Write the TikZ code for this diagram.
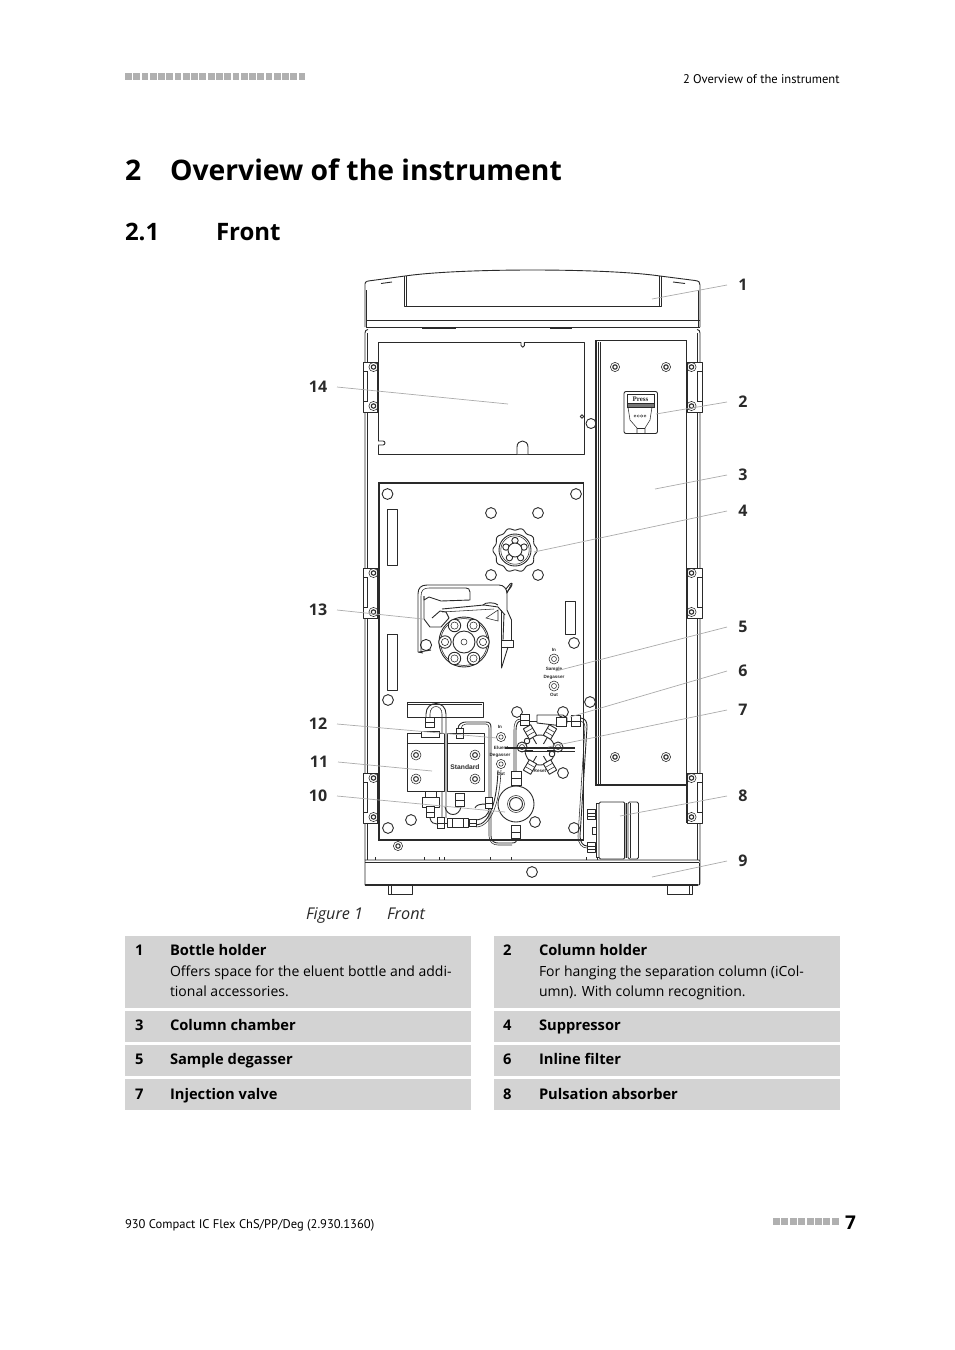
\documentclass[tikz,border=0pt]{standalone}
\usepackage{fontspec}
\setmainfont{Open Sans}
\newfontfamily\nar{PT Sans}
\newfontfamily\libs{Liberation Sans}
\newfontfamily\libsr{Liberation Serif}
\usetikzlibrary{calc}
\definecolor{ink}{HTML}{2A2A2A}
\definecolor{band}{HTML}{D3D3D3}
\definecolor{sq}{HTML}{B0B0B0}
\definecolor{lead}{HTML}{ABABAB}
\tikzset{
 txt/.style={anchor=base west,inner sep=0pt,outer sep=0pt,font=\fontsize{14}{17}\selectfont,text=black},
 btxt/.style={txt,font=\fontsize{14.7}{17}\selectfont\bfseries},
 itx/.style={txt,font=\fontsize{16.2}{17}\selectfont\itshape,text=ink},
 nartxt/.style={txt,font=\fontsize{12.55}{16}\nar\selectfont},
 lab/.style={inner sep=0pt,outer sep=0pt,font=\fontsize{16}{17}\selectfont\bfseries,text=ink},
 labr/.style={lab,minimum width=32pt},
 labl/.style={lab,minimum width=38pt},
 leader/.style={draw=lead,line width=0.7pt},
 dev/.style={draw=ink,line width=0.9pt,line join=round},
 fine/.style={draw=ink,line width=0.55pt},
 thick2/.style={draw=ink,line width=1.6pt},
 mini/.style={inner sep=0pt,font=\fontsize{4.6}{5}\libs\bfseries\selectfont,text=ink},
 fitt/.style={draw=ink,fill=white,line width=0.9pt},
}
\newcommand{\hole}[3]{\draw[dev] (#1,#2) circle (#3);}
\newcommand{\scr}[2]{\draw[fine] (#1,#2) circle (4.6);\draw[draw=ink,line width=1.1pt] (#1,#2) circle (2.2);}
\newcommand{\hinge}[3]{% x of body side, y top, dir
 \draw[dev,fill=white] (#1,#2) rectangle +(#3*15,50);
 \draw[fine,fill=white] (#1,#2+9) rectangle +(#3*4.5,30);
 \draw[draw=ink,line width=1.4pt] (#1+#3*15,#2) -- +(0,50);
 \scr{#1+#3*10.5}{#2+5}\scr{#1+#3*10.5}{#2+44}}
\newcommand{\ft}[4]{\draw[fitt] (#1-#3/2,#2-#4/2) rectangle (#1+#3/2,#2+#4/2);\draw[fine] (#1-#3/2,#2) -- (#1+#3/2,#2);}
\newcommand{\vft}[3]{\begin{scope}[shift={(#1,#2)},rotate=#3]\draw[dev,fill=white] (-6,-4.2) rectangle (6,4.2);\draw[fine] (-2,-4.2) -- (-2,4.2) (2,-4.2) -- (2,4.2);\end{scope}}
\begin{document}
\begin{tikzpicture}[x=1pt,y=-1pt]
\useasboundingbox (0,0) rectangle (954,1350);
% ===== page furniture
\foreach \i in {0,...,21}{\fill[sq] (125+\i*8.27,73.4) rectangle +(6.8,7);}
\node[nartxt] (hdr) at (683,83) {2 Overview of the instrument};
\node[txt,font=\fontsize{28.3}{32}\selectfont\bfseries] (ch) at (125,180) {2};
\node[txt,font=\fontsize{28.3}{32}\selectfont\bfseries] (cht) at (170,180) {Overview of the instrument};
\node[txt,font=\fontsize{24}{28}\selectfont\bfseries] (sec) at (125,240.5) {2.1};
\node[txt,font=\fontsize{24}{28}\selectfont\bfseries] (sect) at (216,240.5) {Front};
\foreach \i in {0,...,7}{\fill[sq] (772.7+\i*8.45,1218) rectangle +(7,7);}
\node[nartxt] (ftr) at (125,1228) {930 Compact IC Flex ChS/PP/Deg (2.930.1360)};
\node[txt,font=\fontsize{19}{22}\selectfont\bfseries] (pg) at (845,1229.5) {7};
% ===== bottle holder
\draw[dev] (365,327) -- (365,284) .. controls (365,281) and (368,281) .. (372,280.5) -- (405,276)
  .. controls (460,268) and (605,268) .. (660,276) -- (695,280.5) .. controls (699,281) and (700,282) .. (700,285) -- (700,327);
\draw[fine] (366.5,327) -- (366.5,290);\draw[fine] (698.5,327) -- (698.5,290);
\draw[dev] (404,276) -- (404,306) -- (661,306) -- (661,276);
\draw[fine] (406,276) -- (406,306);\draw[fine] (659,276) -- (659,306);
\draw[dev] (381,283.5) -- (392,282);\draw[dev] (673,282) -- (685,283.5);
\draw[fine] (366,320) -- (700,320);
\draw[thick2] (366,327.5) -- (700,327.5);
\draw[fine] (422,328.5) -- (456,328.5);\draw[fine] (550,328.5) -- (572,328.5);
% ===== body
\draw[dev] (365,860) -- (365,333) .. controls (365,331) and (366,329.5) .. (368,329.5);
\draw[fine] (367.5,860) -- (367.5,333);
\draw[dev] (700,860) -- (700,333) .. controls (700,331) and (699,329.5) .. (697,329.5);
\draw[fine] (697.5,860) -- (697.5,333);
\hinge{363}{362}{1}\hinge{363}{568}{1}\hinge{363}{773}{1}
\hinge{702}{362}{-1}\hinge{702}{568}{-1}\hinge{702}{773}{-1}
% ===== upper panel
\draw[dev] (378,342) rectangle (584,454);
\draw[dev,fill=white] (521,342) -- (521,345.5) arc[start angle=180,end angle=0,radius=1.7] -- (524.4,342);
\draw[dev,fill=white] (517,454) -- (517,447) .. controls (517,439) and (528,439) .. (528,447) -- (528,454);
\draw[dev,fill=white] (378,441) -- (383,441) arc[start angle=-90,end angle=90,radius=2] -- (378,445);
\draw[dev,fill=white] (582,416.5) circle (1.8);
\hole{591}{423.5}{5}
% ===== column chamber
\draw[thick2,fill=white] (596,340.5) rectangle (686.5,785);
\draw[fine] (600,342) -- (600,784);\draw[fine] (598,342) -- (598,784);
\foreach \a/\b in {615/367,666/367,615/757,666/757}{\scr{\a}{\b}}
\draw[dev,rounded corners=2pt] (624,391.5) rectangle (657.5,433.5);
\draw[fine,fill=ink!65] (627,403) rectangle (654.5,407);
\draw[fine] (627,394) rectangle (654.5,403);
\node[mini,font=\fontsize{7}{7}\libsr\bfseries\selectfont] (press) at (640.5,399) {Press};
\draw[fine] (628,407) -- (630,420) -- (637,428) -- (637,433);\draw[fine] (652,407) -- (650,420) -- (645,428) -- (645,433);
\draw[fine] (637,428) -- (645,428);
\foreach \a in {635,638.3,641.6,645}{\draw[draw=ink,line width=0.3pt] (\a,416) circle (1.2);}
% ===== lower panel
\draw[draw=ink,line width=1.4pt] (379,483) rectangle (583.5,840);
\foreach \a/\b in {387.5/494,576/494,491/513,538/513,491/575,538/575,574/643,388/700,590/702,563/773,535/822,411/820,388/828,574/828,517/712,563/712}{\hole{\a}{\b}{5.4}}
\foreach \a/\b in {387/509,387/634}{\draw[dev] (\a,\b) rectangle +(10,56);}
\draw[dev] (565,601) rectangle (575,634);
% suppressor
\draw[dev,smooth] plot[domain=0:360,samples=120] ({515+(21+1.1*cos(10*\x))*cos(\x)},{550+(21+1.1*cos(10*\x))*sin(\x)});
\draw[dev] (515,550) circle (16);\draw[fine] (515,550) circle (14.2);
\foreach \t in {18,90,162,234,306}{\draw[dev] ({515+9.5*cos(\t)},{550-9.5*sin(\t)}) circle (3.2);}
\draw[dev,fill=white] (515,550) circle (7);
% pump bracket
\draw[dev] (418,652) -- (418,594) .. controls (418,588) and (421,585) .. (427,585) -- (499,585)
  .. controls (504,585) and (507,589) .. (507,594) -- (507,610) -- (511.5,620) -- (511.5,640);
\draw[fine] (421,652) -- (421,596) .. controls (421,590) and (424,588) .. (429,588) -- (466,588);
\draw[dev] (424,596) -- (424,600) -- (429,597) -- (441,601) -- (470,600) -- (470,592) .. controls (470,589) and (468,588) .. (466,588);
\draw[dev] (424,596) -- (424,619) -- (430,627) -- (441,627) -- (449,618) -- (446,612) -- (440,611) -- (432,618);
\draw[dev] (442,609) -- (484,605) -- (498,607) -- (505,615);
\draw[fine] (442,612) -- (494,609);
\draw[dev] (483,605) .. controls (485,602) and (495,602) .. (498,605);
\draw[fine] (498,610) -- (498,621) -- (486,618) -- cycle;
\draw[dev] (504,614) -- (503,640);\draw[dev] (501,610) -- (501,640);
\draw[dev] (507,593) -- (511,585) -- (512,583);\draw[dev] (506,589) -- (510,584) .. controls (512,582) and (513,584) .. (511,587) -- (507,592);
\draw[dev,fill=white] (501,640) rectangle (513,647);
\draw[dev] (501.5,647) -- (501.5,668) -- (508,647);
\draw[dev] (419,652) -- (431,650) (418,652) -- (423,653);
\hole{426}{645}{5.6}
% pump head
\draw[dev,fill=white] (464,642) circle (25);
\draw[fine] (464,642) circle (23.5);
\foreach \t in {0,60,...,300}{\draw[dev,fill=white] ({464+19*cos(\t)},{642+19*sin(\t)}) circle (6.2);
  \draw[fine] ({464+19*cos(\t)},{642+19*sin(\t)}) circle (3.6);}
\draw[dev,fill=white] (464,642) circle (11);\draw[fine] (464,642) circle (3);
% sample degasser
\foreach \b in {659,686}{\draw[fine] (554,\b) circle (5);\draw[fine] (554,\b) circle (2.5);}
\node[mini] (sIn) at (554,650) {In};
\node[mini] (sSa) at (554,669) {Sample};
\node[mini] (sDe) at (554,677) {Degasser};
\node[mini] (sOu) at (554,695) {Out};
% standard blocks
\draw[dev] (407,702) rectangle (483,717);\draw[fine] (408,704) -- (482,704);
\draw[dev] (426,722) -- (426,714) .. controls (426,700) and (446,700) .. (446,714) -- (446,818) ;
\draw[fine] (430,722) -- (430,714) .. controls (430,704) and (442,704) .. (442,714) -- (442,818);
\draw[dev,fill=white] (407,733) rectangle (444,791);\draw[dev,fill=white] (447,733) rectangle (484,791);
\draw[fine] (407,743) -- (444,743);\draw[fine] (447,743) -- (484,743);
\foreach \a/\b in {416/755,416/779,475/755,475/779}{\draw[fine] (\a,\b) circle (5);\draw[draw=ink,line width=1pt] (\a,\b) circle (2.4);}
\node[inner sep=0pt,font=\fontsize{6.7}{8}\libs\bfseries\selectfont,text=ink] (std) at (465,767) {Standard};
\draw[fine,fill=white] (421,731) rectangle (439,737);
\ft{430}{722}{9}{10}
\ft{460}{733}{7}{10}
\draw[dev] (458,729) .. controls (458,724) and (462,722) .. (466,722) -- (486,722) .. controls (490,722) and (491,724) .. (491,728) -- (491,836) .. controls (491,841) and (494,843) .. (498,843) -- (512,843) .. controls (516,843) and (517,841) .. (517,838);
\draw[fine] (461,729) .. controls (461,726) and (463,724) .. (466,724) -- (486,724) .. controls (488,724) and (489,726) .. (489,728) -- (489,836) .. controls (489,842) and (493,845) .. (498,845) -- (512,845);
\draw[dev] (422,797) rectangle (439,807);
\draw[dev] (425,791) -- (425,797) (436,791) -- (436,797);
\ft{460}{800}{9}{13}
\draw[dev] (445,807) .. controls (447,817) and (459,817) .. (461,807);
\ft{430}{812}{8}{11}
\draw[dev] (430,818) .. controls (431,823) and (434,824) .. (437,824);
\ft{441}{823}{7}{11}
\draw[dev,fill=white] (447,818) rectangle (468,827);\draw[fine] (452,818) -- (452,827) (463,818) -- (463,827);
\draw[dev] (444,823) -- (447,823) (468,823) -- (470,823);
\ft{473}{823}{7}{7}
\draw[dev] (476,825) .. controls (490,825) and (497,800) .. (498,770);
\draw[fine] (476,827) .. controls (492,827) and (500,800) .. (501,770);
\draw[dev] (476,820) .. controls (484,819) and (489,815) .. (489,808);
\ft{489}{803}{7}{11}
\draw[dev] (475,808) .. controls (476,805) and (480,804) .. (486,804);
% eluent degasser
\draw[fine] (501,737) circle (4.6);\draw[fine] (501,737) circle (2.2);
\draw[fine] (501,764) circle (4.6);\draw[fine] (501,764) circle (2.2);
\node[mini] (eIn) at (500,727) {In};
\node[mini] (eSa) at (501,748) {Eluent};
\node[mini] (eDe) at (500,755) {Degasser};
\node[mini] (eOu) at (501,774) {Out};
% pulsation chamber on lower panel
\draw[dev,fill=white] (516,804) circle (18);
\draw[fine] (516,804) circle (8.5);\draw[dev] (516,804) circle (6.5);
\ft{516}{778}{10}{14}
\ft{516}{832}{9}{13}
\draw[dev] (516,771) -- (516,730) .. controls (516,724) and (518,721) .. (521,721);
\draw[fine] (514,771) -- (514,730) .. controls (514,722) and (516,719) .. (521,719);
% injection valve
\draw[dev,fill=white] (540,750) circle (15);
\foreach \t in {0,60,...,300}{\draw[dev] ({540+7*cos(\t)},{750+7*sin(\t)}) -- ({540+16*cos(\t)},{750+16*sin(\t)});}
\vft{530}{732}{-60}\vft{550}{732}{60}\vft{530}{767}{60}\vft{550}{767}{-60}
\foreach \a/\b in {522/747,558/747}{\draw[dev,fill=white] (\a,\b) circle (5);\draw[fine] (\a,\b) circle (2.5);}
\draw[dev,fill=white] (527,741) circle (2.8);\draw[dev,fill=white] (552,754) circle (2.8);
\draw[draw=ink,line width=1.8pt] (505,748) -- (575,748);
\draw[fine] (520,751) -- (575,751);
\draw[dev] (537,715) -- (563,715) -- (567,718) -- (567,723) -- (563,726) -- (537,723) -- cycle;
\draw[fine,fill=white] (556,717) rectangle (566,726);
\ft{525}{720}{9}{11}
\ft{576}{721}{9}{11}
\draw[dev] (530,721) -- (537,721) (567,721) -- (571,721);
\draw[dev] (581,718) .. controls (586,719) and (587,722) .. (587,727) -- (580,836) .. controls (580,842) and (583,846) .. (587,846);
\draw[fine] (581,721) .. controls (584,722) and (585,724) .. (585,727) -- (578,836) .. controls (578,844) and (582,848) .. (587,848);
\node[mini] (rst) at (540,771) {Reset};
% bottom circle
\draw[fine] (398,846) circle (4.6);\draw[draw=ink,line width=1pt] (398,846) circle (2.2);
% pulsation absorber
\draw[dev,fill=white] (596,803) rectangle (599,857);
\draw[dev,fill=white,rounded corners=1.5pt] (599,802) rectangle (625,859);
\draw[dev,fill=white,rounded corners=1.5pt] (628,802) rectangle (638.5,859);
\draw[draw=ink,line width=1.2pt] (626.5,803) -- (626.5,858);
\draw[fine] (624,803) -- (624,858);\draw[fine] (630,803) -- (630,858);
\draw[dev,fill=white] (587,809) rectangle (595,819);\draw[fine] (587,813) -- (595,813) (587,816) -- (595,816);
\draw[dev,fill=white] (587,842) rectangle (595,852);\draw[fine] (587,846) -- (595,846) (587,849) -- (595,849);
\draw[dev] (596,827) -- (592,827) -- (592,834) -- (596,834);
% base
\draw[dev,fill=white] (365,860) -- (699,860) .. controls (700,860) and (700,861) .. (700,862) -- (700,883) .. controls (700,885) and (699,885) .. (698,885) -- (365,885) -- cycle;
\draw[fine] (365,862.5) -- (699,862.5);
\draw[draw=ink,line width=1.6pt] (699.5,863) -- (699.5,884) (365,885) -- (698,885);
\draw[fine] (586,860) -- (586,857) (597,857) -- (597,860) (424,857) -- (424,860) (439,857) -- (439,860) (444,857) -- (444,860);
\draw[fine] (375,857) -- (375,860) (490,857) -- (490,860) (511,857) -- (511,860);
\hole{532}{872}{5.4}
\draw[dev] (667,885) -- (667,894) -- (692,894) -- (692,885);\draw[fine] (689,885) -- (689,894);
\draw[dev] (388,885) -- (388,894) -- (412,894) -- (412,885);\draw[fine] (391,885) -- (391,894);
% ===== callouts
\foreach \n/\a/\b/\tx/\ty in {1/743/285/652/299,2/743/402/656/414,3/743/475/655/489,4/743/511/534/552,5/743/627/556/671,6/743/671/570/717,7/743/710/548/747,8/743/796/620/816,9/743/861/652/877}{
 \node[labr] (c\n) at (\a,\b) {\n};
 \coordinate (t\n) at (\tx,\ty);
 \draw[leader] (c\n.west) -- (t\n);
}
\foreach \n/\a/\b/\tx/\ty in {10/318/796/505/812,11/319/762/432/771,12/318/724/497/738,13/318/610/423/619,14/318/387/508/404}{
 \node[labl] (c\n) at (\a,\b) {\n};
 \coordinate (t\n) at (\tx,\ty);
 \draw[leader] (c\n.east) -- (t\n);
}
% ===== caption
\node[itx] (figa) at (306,919) {Figure 1};
\node[itx] (figb) at (387,919) {Front};
% ===== legend
\foreach \x in {125,494}{
 \fill[band] (\x,936) rectangle +(346,72);
 \fill[band] (\x,1011) rectangle +(346,31);
 \fill[band] (\x,1045) rectangle +(346,31);
 \fill[band] (\x,1079) rectangle +(346,31);
}
\node[btxt] (n1) at (135,955) {1};
\node[btxt] (b1) at (170,955) {Bottle holder};
\node[txt] (d1a) at (170,976) {Offers space for the eluent bottle and addi-};
\node[txt] (d1b) at (170,996) {tional accessories.};
\node[btxt] (n2) at (503,955) {2};
\node[btxt] (b2) at (539,955) {Column holder};
\node[txt] (d2a) at (539,976) {For hanging the separation column (iCol-};
\node[txt] (d2b) at (539,996) {umn). With column recognition.};
\node[btxt] (n3) at (135,1030) {3};
\node[btxt] (b3) at (170,1030) {Column chamber};
\node[btxt] (n4) at (503,1030) {4};
\node[btxt] (b4) at (539,1030) {Suppressor};
\node[btxt] (n5) at (135,1064) {5};
\node[btxt] (b5) at (170,1064) {Sample degasser};
\node[btxt] (n6) at (503,1064) {6};
\node[btxt] (b6) at (539,1064) {Inline filter};
\node[btxt] (n7) at (135,1099) {7};
\node[btxt] (b7) at (170,1099) {Injection valve};
\node[btxt] (n8) at (503,1099) {8};
\node[btxt] (b8) at (539,1099) {Pulsation absorber};
\end{tikzpicture}
\end{document}
